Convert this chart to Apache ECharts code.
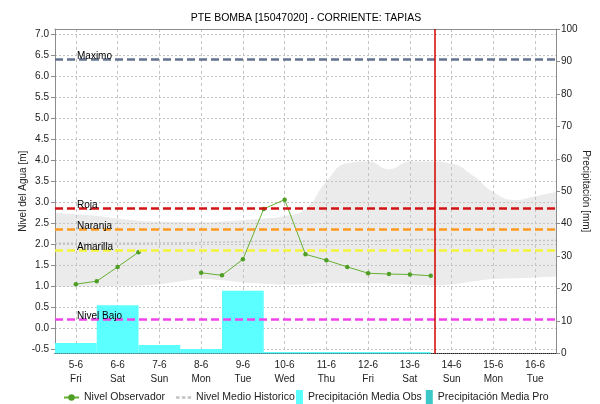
<!DOCTYPE html>
<html>
<head>
<meta charset="utf-8">
<script src="https://cdn.jsdelivr.net/npm/echarts@6/dist/echarts.min.js"></script>
<style>
  html, body { margin: 0; padding: 0; background: #fff; }
  #chart { width: 600px; height: 404px; }
</style>
</head>
<body>
<div id="chart"></div>
<script>
// Day categories along the bottom axis
const days = ['5-6', '6-6', '7-6', '8-6', '9-6', '10-6', '11-6', '12-6', '13-6', '14-6', '15-6', '16-6'];
const weekdays = ['Fri', 'Sat', 'Sun', 'Mon', 'Tue', 'Wed', 'Thu', 'Fri', 'Sat', 'Sun', 'Mon', 'Tue'];

// Daily precipitation [mm]
const precipObs = [3.2, 14.9, 2.6, 1.4, 19.3, 0.5, 0.5, 0.5, 0.5, null, null, null];
const precipPro = [null, null, null, null, null, null, null, null, null, 0, 0, 0];

// Observed water level [m]
const obsTimes = [
  '2020-06-05 12:00', '2020-06-06 00:00', '2020-06-06 12:00', '2020-06-07 00:00',
  '2020-06-07 12:00', '2020-06-08 00:00', '2020-06-08 12:00', '2020-06-09 00:00',
  '2020-06-09 12:00', '2020-06-10 00:00', '2020-06-10 12:00', '2020-06-11 00:00',
  '2020-06-11 12:00', '2020-06-12 00:00', '2020-06-12 12:00', '2020-06-13 00:00',
  '2020-06-13 12:00', '2020-06-14 00:00'
];
const obsLevels = [1.06, 1.13, 1.47, 1.82, null, null, 1.33, 1.27, 1.65, 2.85, 3.07, 1.77,
  1.63, 1.47, 1.32, 1.30, 1.29, 1.26];

// Historic range and mean level [m]
const histTimes = [
  '2020-06-05 00:00', '2020-06-05 12:00', '2020-06-06 00:00', '2020-06-06 12:00',
  '2020-06-07 00:00', '2020-06-07 12:00', '2020-06-08 00:00', '2020-06-08 12:00',
  '2020-06-09 00:00', '2020-06-09 12:00', '2020-06-10 00:00', '2020-06-10 12:00',
  '2020-06-11 00:00', '2020-06-11 12:00', '2020-06-12 00:00', '2020-06-12 12:00',
  '2020-06-13 00:00', '2020-06-13 12:00', '2020-06-14 00:00', '2020-06-14 12:00',
  '2020-06-15 00:00', '2020-06-15 12:00', '2020-06-16 00:00', '2020-06-16 12:00',
  '2020-06-17 00:00'
];
const histLow = [1.00, 1.00, 1.01, 1.02, 1.03, 1.06, 1.12, 1.18, 1.15, 1.10, 1.07, 1.05, 1.06,
  1.08, 1.08, 1.08, 1.07, 1.05, 1.03, 1.05, 1.12, 1.18, 1.20, 1.22, 1.24];
const histHigh = [2.76, 2.72, 2.68, 2.62, 2.57, 2.55, 2.54, 2.53, 2.55, 2.58, 2.62, 2.68, 2.85,
  3.50, 3.94, 3.98, 3.80, 3.98, 3.98, 3.93, 3.65, 3.25, 3.06, 3.15, 3.26];
const histMean = [2.03, 2.03, 2.03, 2.03, 2.03, 2.04, 2.04, 2.05, 2.06, 2.07, 2.08, 2.08, 2.08,
  2.08, 2.09, 2.09, 2.10, 2.11, 2.12, 2.11, 2.10, 2.10, 2.10, 2.10, 2.10];

// Alert thresholds [m]
const thresholdNames = ['Maximo', 'Roja', 'Naranja', 'Amarilla', 'Nivel Bajo'];
const thresholdLevels = [6.40, 2.87, 2.37, 1.87, 0.22];
const thresholdColors = ['#62738f', '#d41414', '#ff9a1e', '#f4f43a', '#ee44ee'];

const nowTime = '2020-06-14 02:10';
const axisMin = '2020-06-05 00:00';
const axisMax = '2020-06-17 00:00';

const toMs = s => new Date(s.replace(' ', 'T')).getTime();
const pairs = (times, vals) => times.map((t, i) => [toMs(t), vals[i]]);

const FONT = "'Liberation Sans', Arial, sans-serif";
const TEXT = '#222';
const GRID = '#c4c4c4';
const MEAN_COLOR = '#c2c2c2';

const markData = thresholdNames.map((name, i) => ({
  name: name,
  yAxis: thresholdLevels[i],
  lineStyle: { color: thresholdColors[i], width: 2.5, type: [8, 4] },
  label: {
    show: true, formatter: name, position: 'insideStartTop',
    color: '#000', fontSize: 10, fontFamily: FONT, distance: 0, offset: [22, 2]
  }
}));
markData.push({
  xAxis: toMs(nowTime),
  lineStyle: { color: '#d40000', width: 1.5, type: 'solid' },
  label: { show: false }
});

const legendText = { fontSize: 10.5, color: TEXT, fontFamily: FONT };

const chart = echarts.init(document.getElementById('chart'), null, { renderer: 'canvas' });
chart.setOption({
  animation: false,
  backgroundColor: '#fff',
  textStyle: { fontFamily: FONT },
  title: {
    text: 'PTE BOMBA [15047020] - CORRIENTE: TAPIAS',
    left: 301, top: 8, textAlign: 'center',
    textStyle: { fontSize: 10.5, fontWeight: 'normal', color: '#000', fontFamily: FONT }
  },
  legend: [
    {
      left: 63, top: 392, padding: 0, itemWidth: 15, itemHeight: 8, itemGap: 11,
      data: [
        'Nivel Observador',
        { name: 'Nivel Medio Historico', icon: 'path://M0,0h3v2h-3z M5,0h3v2h-3z M10,0h3v2h-3z',
          itemStyle: { color: MEAN_COLOR } }
      ],
      textStyle: legendText
    },
    {
      left: 296, top: 390, padding: 0, itemWidth: 7, itemHeight: 14, itemGap: 4, icon: 'rect',
      data: ['Precipitación Media Obs', 'Precipitación Media Pro'],
      textStyle: legendText
    }
  ],
  grid: { left: 55, right: 44, top: 29, bottom: 50.5, containLabel: false, outerBoundsMode: 'none' },
  xAxis: [
    {
      type: 'category', data: days, position: 'bottom', boundaryGap: true,
      axisLine: { show: true, onZero: false, lineStyle: { color: '#222', type: 'dotted', width: 1 } },
      axisTick: { show: false },
      axisLabel: {
        interval: 0, fontSize: 10, lineHeight: 14, margin: 5, color: TEXT,
        formatter: (v, i) => v + '\n' + weekdays[i]
      },
      splitLine: { show: true, alignWithLabel: true, lineStyle: { color: GRID, type: [3, 3] } }
    },
    {
      type: 'time', position: 'top', min: toMs(axisMin), max: toMs(axisMax),
      axisLine: { show: true, onZero: false, lineStyle: { color: '#8c8c8c' } },
      axisTick: { show: false }, axisLabel: { show: false }, splitLine: { show: false }
    }
  ],
  yAxis: [
    {
      type: 'value', position: 'left', min: -0.59, max: 7.13, splitNumber: 15,
      name: 'Nivel del Agua [m]', nameLocation: 'middle', nameGap: 27, nameRotate: 90,
      nameMoveOverlap: false,
      nameTextStyle: { fontSize: 10, color: TEXT },
      axisLine: { show: true, onZero: false, lineStyle: { color: '#8c8c8c' } },
      axisTick: { show: true, length: 4, lineStyle: { color: '#8c8c8c' } },
      axisLabel: {
        fontSize: 10, color: TEXT, margin: 6, showMinLabel: false, showMaxLabel: false,
        formatter: v => v.toFixed(1)
      },
      splitLine: { show: true, lineStyle: { color: GRID, type: [2, 2] } }
    },
    {
      type: 'value', position: 'right', min: 0, max: 100, interval: 10,
      name: 'Precipitación [mm]', nameLocation: 'middle', nameGap: 25, nameRotate: -90,
      nameMoveOverlap: false,
      nameTextStyle: { fontSize: 10, color: TEXT },
      axisLine: { show: true, onZero: false, lineStyle: { color: '#8c8c8c' } },
      axisTick: { show: true, length: 4, lineStyle: { color: '#8c8c8c' } },
      axisLabel: { fontSize: 10, color: TEXT, margin: 5 },
      splitLine: { show: false }
    }
  ],
  series: [
    {
      name: 'histLow', type: 'line', xAxisIndex: 1, yAxisIndex: 0, stack: 'hist',
      data: pairs(histTimes, histLow), smooth: true, symbol: 'none', silent: true,
      lineStyle: { opacity: 0 }, z: -1
    },
    {
      name: 'histRange', type: 'line', xAxisIndex: 1, yAxisIndex: 0, stack: 'hist',
      data: pairs(histTimes, histHigh.map((h, i) => +(h - histLow[i]).toFixed(2))),
      smooth: true, symbol: 'none', silent: true,
      lineStyle: { opacity: 0 }, areaStyle: { color: '#ebebeb', opacity: 1 }, z: -1
    },
    {
      name: 'Nivel Medio Historico', type: 'line', xAxisIndex: 1, yAxisIndex: 0,
      data: pairs(histTimes, histMean), smooth: true, symbol: 'none',
      lineStyle: { color: MEAN_COLOR, width: 1.5, type: [2, 2] },
      itemStyle: { color: MEAN_COLOR }, z: 1
    },
    {
      name: 'Precipitación Media Obs', type: 'bar', xAxisIndex: 0, yAxisIndex: 1,
      data: precipObs, stack: 'precip', barWidth: '100%',
      itemStyle: { color: '#5cffff' }, z: 2
    },
    {
      name: 'Precipitación Media Pro', type: 'bar', xAxisIndex: 0, yAxisIndex: 1,
      data: precipPro, stack: 'precip', barWidth: '100%',
      itemStyle: { color: '#3cc8c8' }, z: 2
    },
    {
      name: 'Nivel Observador', type: 'line', xAxisIndex: 1, yAxisIndex: 0,
      data: pairs(obsTimes, obsLevels), connectNulls: false,
      symbol: 'circle', symbolSize: 4.5, showAllSymbol: true,
      lineStyle: { color: '#66b032', width: 1 },
      itemStyle: { color: '#4f9f24' }, z: 4,
      markLine: { silent: true, symbol: 'none', animation: false, data: markData }
    }
  ]
});
</script>
</body>
</html>
